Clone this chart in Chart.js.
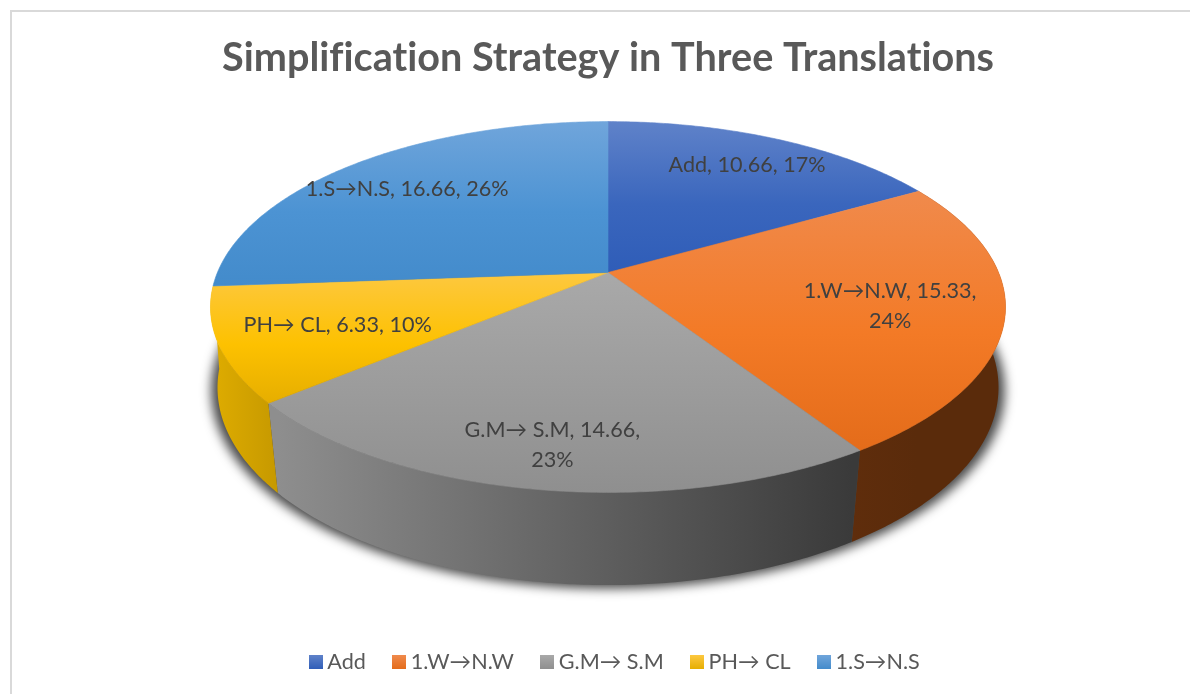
<!DOCTYPE html>
<html>
<head>
<meta charset="utf-8">
<style>
html,body{margin:0;padding:0;background:#fff;overflow:hidden}
#wrap{position:relative;width:1190px;height:694px}
#frame{position:absolute;left:10px;top:10px;right:0;bottom:0;border-top:2px solid #d9d9d9;border-left:2px solid #d9d9d9}
canvas{position:absolute;left:0;top:0}
</style>
<script src="https://cdn.jsdelivr.net/npm/chart.js@4"></script>
</head>
<body>
<div id="wrap"><div id="frame"></div><canvas id="c" width="1190" height="694"></canvas></div>
<script>
const titleText = 'Simplification Strategy in Three Translations';
const categories = ['Add', '1.W→N.W', 'G.M→ S.M', 'PH→ CL', '1.S→N.S'];
const values = [10.66, 15.33, 14.66, 6.33, 16.66];
const baseColors = ['#3a66bd', '#f37a26', '#9b9b9b', '#fdc100', '#4c93d3'];
const lightColors = ['#5f82c9', '#f08a4c', '#a9a9a9', '#fdc840', '#70a5db'];
const darkColors = ['#2f5db8', '#e46c1a', '#8f8f8f', '#e6ae00', '#438bcb'];
const wallLeft = ['#2a4a8a', '#5f2d0c', '#8e8e8e', '#dcaa00', '#2f6a9e'];
const wallRight = ['#2a4a8a', '#5a2b0b', '#3a3a3a', '#c69900', '#2f6a9e'];
const labelDepth = [0.80, 0.72, 0.82, 0.71, 0.77];
const labelWrap = [400, 190, 190, 400, 400];

const FONT = 'Lato, "DejaVu Sans", sans-serif';
const TOP = {a: 2.182, b: 1, dy: 0, q: 0.186};
const RIM = {a: 2.151, b: 1.073, dy: 82, q: 0.167};
const SHADE = {a: 2.185, b: 1.075, dy: 85, q: 0.167};

function project(el, cy, s, theta, f) {
  const u = Math.sin(theta) * f, v = Math.cos(theta) * f, w = 1 + s.q * v, r = el.outerRadius;
  return [el.x + s.a * r * u / w, cy + s.dy - s.b * r * v / w];
}
function rim(ctx, el, cy, s, from, to) {
  const n = Math.max(2, Math.ceil(Math.abs(to - from) / 0.01));
  for (let i = 0; i <= n; i++) {
    const p = project(el, cy, s, from + (to - from) * i / n, 1);
    ctx.lineTo(p[0], p[1]);
  }
}

const pie3d = {
  id: 'pie3d',
  afterLayout(chart) {
    chart.legend.left += 9;
    chart.legend.right += 9;
  },
  beforeDraw(chart) {
    chart.ctx.letterSpacing = '0.01px';
  },
  beforeDatasetsDraw(chart) {
    const ctx = chart.ctx, els = chart.getDatasetMeta(0).data;
    const cy = chart.chartArea.top + els[0].outerRadius;
    const angle = (e) => [e.startAngle + Math.PI / 2, e.endAngle + Math.PI / 2];

    ctx.save();
    ctx.shadowColor = 'rgba(0,0,0,0.72)';
    ctx.shadowBlur = 11;
    ctx.shadowOffsetX = 3000;
    ctx.fillStyle = '#000';
    ctx.translate(-3000, 0);
    ctx.beginPath();
    rim(ctx, els[0], cy, SHADE, 0, Math.PI * 2);
    ctx.closePath();
    ctx.fill();
    ctx.restore();

    ctx.save();
    els.forEach((el, i) => {
      const [a0, a1] = angle(el);
      if (Math.cos((a0 + a1) / 2) > 0) return;
      const p0 = project(el, cy, RIM, a0, 1), p1 = project(el, cy, RIM, a1, 1);
      const g = ctx.createLinearGradient(Math.min(p0[0], p1[0]), 0, Math.max(p0[0], p1[0]), 0);
      g.addColorStop(0, wallLeft[i]);
      g.addColorStop(1, wallRight[i]);
      ctx.fillStyle = g;
      ctx.beginPath();
      rim(ctx, el, cy, TOP, a0, a1);
      rim(ctx, el, cy, RIM, a1, a0);
      ctx.closePath();
      ctx.fill();
    });

    els.forEach((el, i) => {
      const [a0, a1] = angle(el);
      let minY = cy, maxY = cy;
      for (let t = a0; t <= a1; t += 0.01) {
        const y = project(el, cy, TOP, t, 1)[1];
        minY = Math.min(minY, y); maxY = Math.max(maxY, y);
      }
      const g = ctx.createLinearGradient(0, minY, 0, maxY);
      g.addColorStop(0, lightColors[i]);
      g.addColorStop(0.55, baseColors[i]);
      g.addColorStop(1, darkColors[i]);
      ctx.fillStyle = g;
      ctx.strokeStyle = g;
      ctx.lineWidth = 0.6;
      ctx.beginPath();
      ctx.moveTo(el.x, cy);
      rim(ctx, el, cy, TOP, a0, a1);
      ctx.closePath();
      ctx.fill();
      ctx.stroke();
    });

    const total = values.reduce((a, b) => a + b, 0);
    ctx.fillStyle = '#404040';
    ctx.font = '400 21.6px ' + FONT;
    ctx.textAlign = 'center';
    ctx.textBaseline = 'middle';
    els.forEach((el, i) => {
      const [a0, a1] = angle(el);
      const p = project(el, cy, TOP, (a0 + a1) / 2, labelDepth[i]);
      const full = `${categories[i]}, ${values[i]}, ${Math.round(values[i] / total * 100)}%`;
      let lines = [full];
      if (ctx.measureText(full).width > labelWrap[i]) {
        const k = full.lastIndexOf(' ');
        lines = [full.slice(0, k), full.slice(k + 1)];
      }
      lines.forEach((t, j) => ctx.fillText(t, p[0], p[1] + 2 + (j - (lines.length - 1) / 2) * 30));
    });
    ctx.restore();
    return false;
  }
};

function swatch(i) {
  const c = document.createElement('canvas');
  c.width = 14; c.height = 14;
  const x = c.getContext('2d'), g = x.createLinearGradient(0, 0, 0, 14);
  g.addColorStop(0, lightColors[i]);
  g.addColorStop(1, darkColors[i]);
  x.fillStyle = g;
  x.fillRect(0, 0, 14, 14);
  return c;
}

new Chart(document.getElementById('c'), {
  type: 'pie',
  data: {
    labels: categories,
    datasets: [{data: values, backgroundColor: baseColors, borderWidth: 0, radius: 179}]
  },
  plugins: [pie3d],
  options: {
    responsive: false,
    animation: false,
    layout: {padding: {left: 26, bottom: 11}},
    plugins: {
      tooltip: {enabled: false},
      title: {
        display: true,
        text: titleText,
        color: '#595959',
        font: {family: FONT, size: 39.6, weight: '700', lineHeight: 1.2},
        padding: {top: 34, bottom: 12}
      },
      legend: {
        position: 'bottom',
        labels: {
          color: '#595959',
          font: {family: FONT, size: 21.6},
          usePointStyle: true,
          pointStyleWidth: 2,
          padding: 32,
          generateLabels(chart) {
            return Chart.PieController.overrides.plugins.legend.labels.generateLabels(chart)
              .map((l, i) => Object.assign(l, {pointStyle: swatch(i)}));
          }
        }
      }
    }
  }
});
</script>
</body>
</html>
